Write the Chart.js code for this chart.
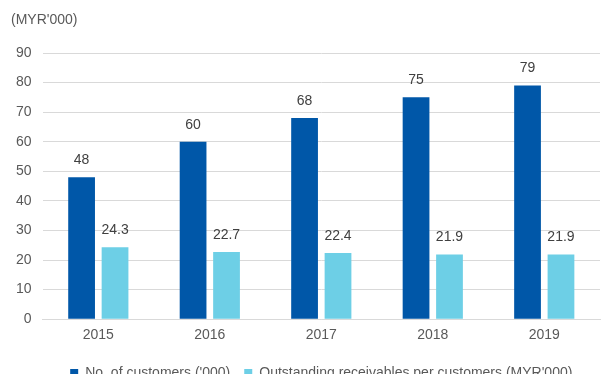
<!DOCTYPE html>
<html>
<head>
<meta charset="utf-8">
<script src="https://cdn.jsdelivr.net/npm/chart.js@4"></script>
<style>
  html, body { margin: 0; padding: 0; background: #fff; overflow: hidden; }
  #wrap { width: 604px; height: 390px; }
</style>
</head>
<body>
<div id="wrap"><canvas id="chart" width="604" height="390"></canvas></div>
<script>
// === Data ===
const years = ['2015', '2016', '2017', '2018', '2019'];
const customers = [48, 60, 68, 75, 79];
const receivables = [24.3, 22.7, 22.4, 21.9, 21.9];
const yTicks = [0, 10, 20, 30, 40, 50, 60, 70, 80, 90];

const unitLabel = "(MYR'000)";
const textColor = '#595959';
const font = { family: "'Liberation Sans', Arial, sans-serif", size: 14 };

// unit label at top left + value labels above bars
const labelPlugin = {
    id: 'labels',
    afterDatasetsDraw(chart) {
        const ctx = chart.ctx;
        ctx.save();
        ctx.font = `${font.size}px ${font.family}`;
        ctx.fillStyle = textColor;
        ctx.textAlign = 'left';
        ctx.textBaseline = 'middle';
        ctx.fillText(unitLabel, 11, 20);

        ctx.fillStyle = '#404040';
        ctx.textAlign = 'center';
        chart.data.datasets.forEach((ds, i) => {
            chart.getDatasetMeta(i).data.forEach((bar, j) => {
                ctx.fillText(String(ds.data[j]), bar.x, bar.y - 17);
            });
        });
        ctx.restore();
    }
};

new Chart(document.getElementById('chart').getContext('2d'), {
    type: 'bar',
    data: {
        labels: years,
        datasets: [{
            label: "No. of customers ('000)",
            data: customers,
            backgroundColor: '#0057a8',
            categoryPercentage: 0.6,
            barPercentage: 0.8
        }, {
            label: "Outstanding receivables per customers (MYR'000)",
            data: receivables,
            backgroundColor: '#6dcfe6',
            categoryPercentage: 0.6,
            barPercentage: 0.8
        }]
    },
    options: {
        responsive: false,
        animation: false,
        layout: { padding: { top: 53, left: 5, right: 4, bottom: 0 } },
        plugins: {
            tooltip: { enabled: false },
            legend: {
                position: 'bottom',
                fullSize: false,
                labels: {
                    color: textColor,
                    font: font,
                    boxWidth: 8,
                    boxHeight: 8,
                    padding: 14
                }
            }
        },
        scales: {
            x: {
                grid: { display: false, drawTicks: false },
                border: { color: '#d9d9d9' },
                ticks: { color: textColor, font: font, padding: 8 }
            },
            y: {
                min: 0,
                max: 90,
                afterBuildTicks(scale) {
                    scale.ticks = yTicks.map(v => ({ value: v }));
                },
                grid: { color: '#d9d9d9', drawTicks: false },
                border: { display: false },
                ticks: { color: textColor, font: font, padding: 11 }
            }
        }
    },
    plugins: [labelPlugin]
});
</script>
</body>
</html>
